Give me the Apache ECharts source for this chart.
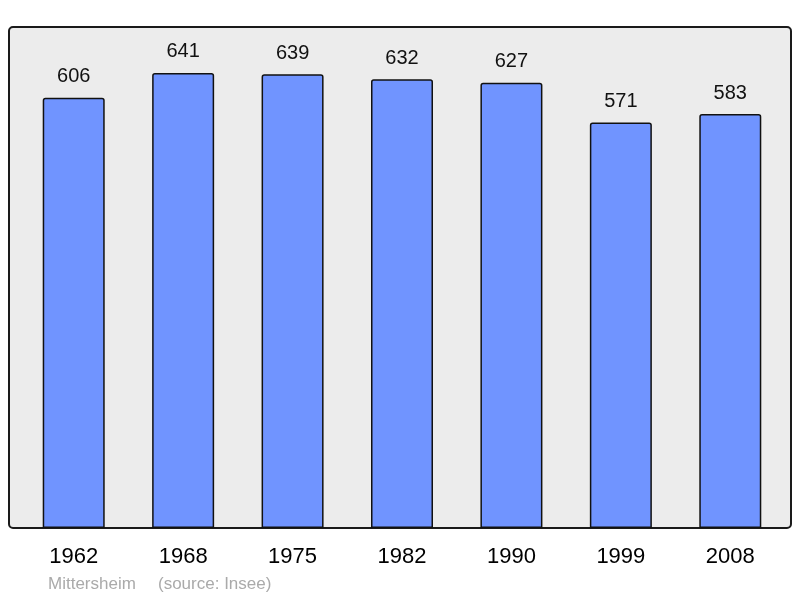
<!DOCTYPE html>
<html>
<head>
    <meta charset="utf-8">
    <title>Mittersheim</title>
    <script src="https://cdn.jsdelivr.net/npm/echarts@6/dist/echarts.min.js"></script>
</head>
<body style="margin:0">
<div id="main" style="width: 800px;height:598px;"></div>
<script type="text/javascript">
    var years = ['1962', '1968', '1975', '1982', '1990', '1999', '2008'];
    var population = [606, 641, 639, 632, 627, 571, 583];
    var town = 'Mittersheim';
    var source = '(source: Insee)';

    var myChart = echarts.init(document.getElementById('main'));
    var option = {
        backgroundColor: '#ffffff',
        animation: false,
        graphic: [
            {
                type: 'rect',
                z: -10,
                shape: { x: 9, y: 27, width: 782, height: 501, r: 4 },
                style: { fill: '#ececec', stroke: '#1a1a1a', lineWidth: 2 }
            },
            {
                type: 'text',
                left: 48,
                top: 576,
                style: { text: town, fill: '#aaaaaa', font: '17px "Liberation Sans", Arial, sans-serif' }
            },
            {
                type: 'text',
                left: 158,
                top: 576,
                style: { text: source, fill: '#aaaaaa', font: '17px "Liberation Sans", Arial, sans-serif' }
            }
        ],
        grid: { left: 19, right: 15, top: 31, bottom: 70 },
        xAxis: {
            type: 'category',
            data: years,
            axisLine: { show: false },
            axisTick: { show: false },
            axisLabel: {
                margin: 18,
                fontSize: 22,
                color: '#000',
                fontFamily: '"Liberation Sans", Arial, sans-serif'
            }
        },
        yAxis: {
            type: 'value',
            min: 0,
            max: 700,
            show: false,
            splitLine: { show: false }
        },
        series: [{
            type: 'bar',
            data: population,
            barWidth: 62,
            itemStyle: {
                color: '#7094ff',
                borderColor: '#111',
                borderWidth: 1.5,
                borderRadius: [2, 2, 0, 0]
            },
            label: {
                show: true,
                position: 'top',
                distance: 11,
                fontSize: 20,
                color: '#111',
                fontFamily: '"Liberation Sans", Arial, sans-serif'
            }
        }]
    };
    myChart.setOption(option);
</script>
</body>
</html>
